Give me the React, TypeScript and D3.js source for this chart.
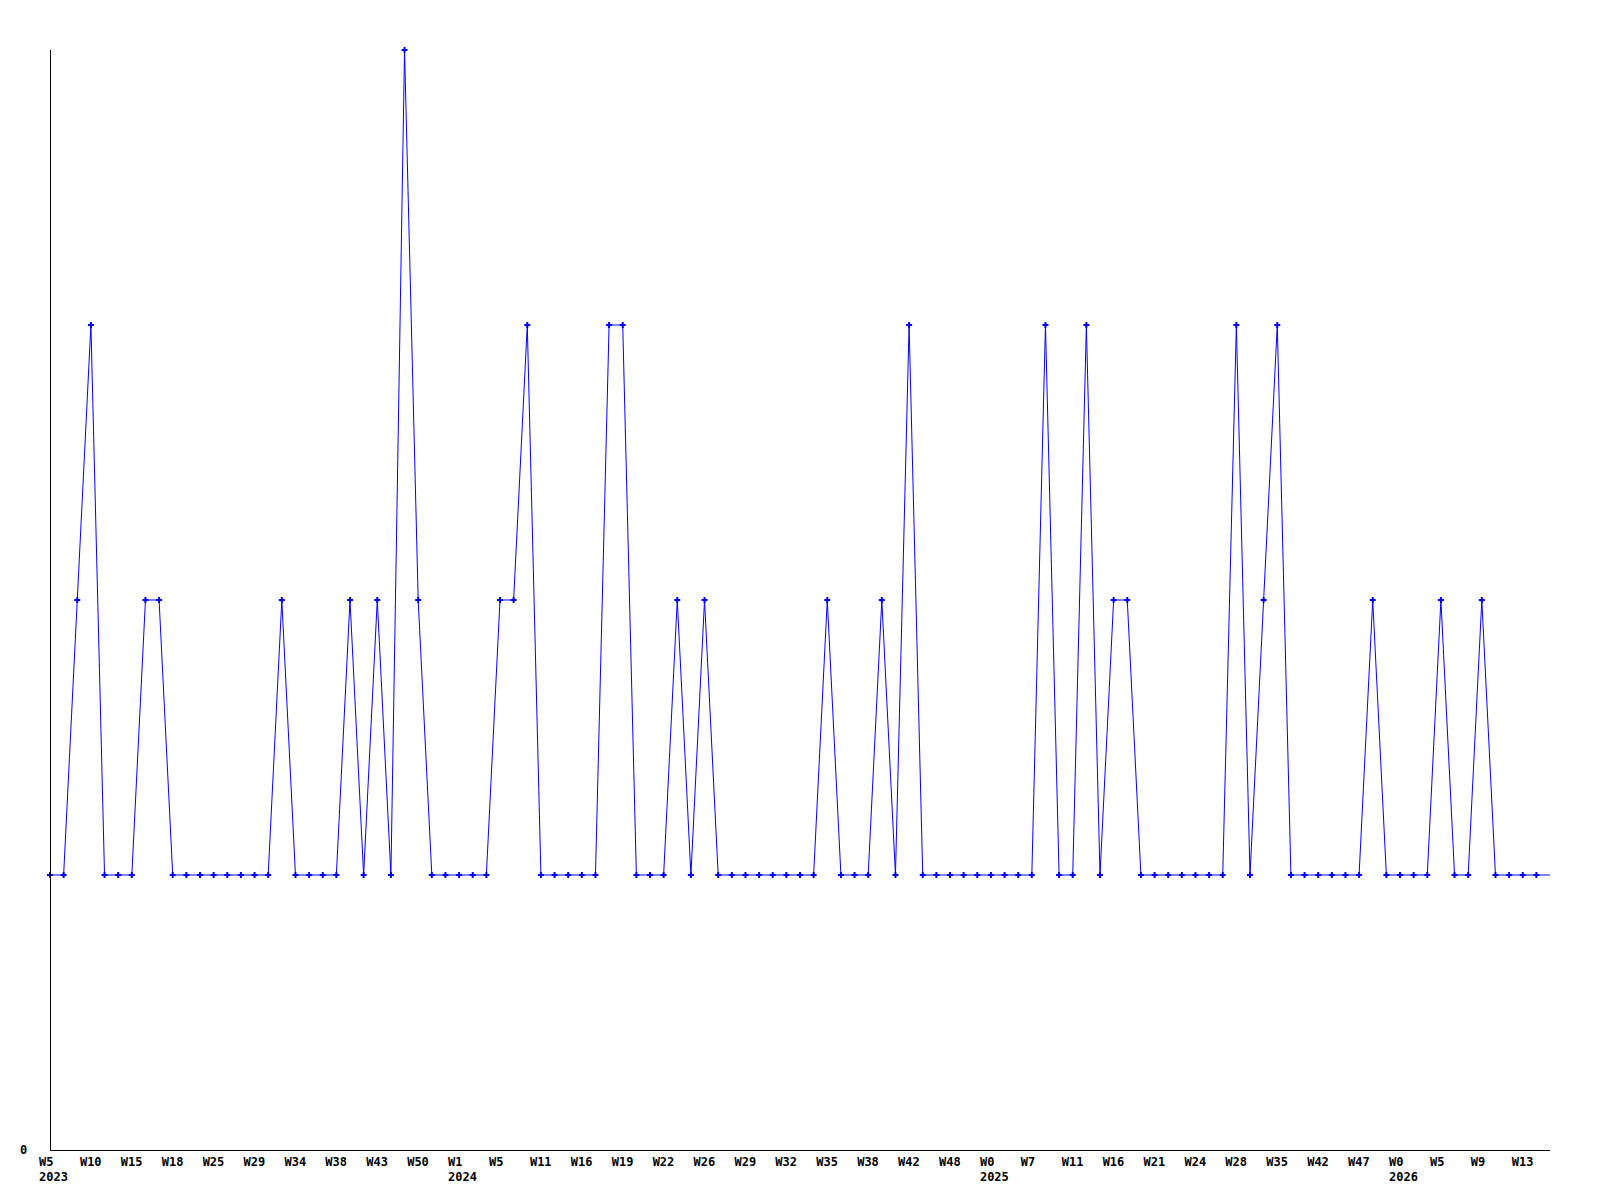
import React from "react";
import * as d3 from "d3";

// weekly counts, one per point
const values: number[] = [
    1, 1, 2, 3, 1, 1, 1, 2, 2, 1,
    1, 1, 1, 1, 1, 1, 1, 2, 1, 1,
    1, 1, 2, 1, 2, 1, 4, 2, 1, 1,
    1, 1, 1, 2, 2, 3, 1, 1, 1, 1,
    1, 3, 3, 1, 1, 1, 2, 1, 2, 1,
    1, 1, 1, 1, 1, 1, 1, 2, 1, 1,
    1, 2, 1, 3, 1, 1, 1, 1, 1, 1,
    1, 1, 1, 3, 1, 1, 3, 1, 2, 2,
    1, 1, 1, 1, 1, 1, 1, 3, 1, 2,
    3, 1, 1, 1, 1, 1, 1, 2, 1, 1,
    1, 1, 2, 1, 1, 2, 1, 1, 1, 1
];

// a label every third point
const weekLabels: string[] = [
    "W5", "W10", "W15", "W18", "W25", "W29", "W34", "W38", "W43", "W50",
    "W1", "W5", "W11", "W16", "W19", "W22", "W26", "W29", "W32", "W35",
    "W38", "W42", "W48", "W0", "W7", "W11", "W16", "W21", "W24", "W28",
    "W35", "W42", "W47", "W0", "W5", "W9", "W13"
];
const labelEvery = 3;

const yearLabelIndex: number[] = [0, 10, 23, 33];
const yearLabels: string[] = ["2023", "2024", "2025", "2026"];

const yTicks: number[] = [0];

const W = 1600;
const H = 1200;
const margin = { top: 50, right: 50, bottom: 50, left: 50 };
const FONT = "'DejaVu Sans Mono', 'Liberation Mono', monospace";

export default function App() {
    const x = d3.scaleLinear()
        .domain([0, values.length])
        .range([margin.left, W - margin.right]);
    const y = d3.scaleLinear()
        .domain([0, 4])
        .range([H - margin.bottom, margin.top]);

    const pts: [number, number][] = values.map((v, i) => [i, v]);
    // the line runs on to the right edge at the last value
    const linePts: [number, number][] = [...pts, [values.length, values[values.length - 1]]];

    const line = d3.line<[number, number]>()
        .x(d => x(d[0]))
        .y(d => y(d[1]));

    const marker = d3.symbol().type(d3.symbolCross).size(20)();

    const x0 = margin.left + 0.5;
    const x1 = W - margin.right;
    const yb = H - margin.bottom + 0.5;

    return (
        <svg
            width={W}
            height={H}
            style={{ position: "absolute", left: 0, top: 0, background: "#fff" }}
        >
            <path d={line(linePts) ?? ""} fill="none" stroke="#0000ff" strokeWidth={1} />
            {pts.map(([i, v]) => (
                <path
                    key={i}
                    d={marker ?? ""}
                    transform={`translate(${x(i)},${y(v)})`}
                    fill="#0000ff"
                />
            ))}

            {/* axes */}
            <line x1={x0} x2={x0} y1={margin.top} y2={yb} stroke="#000" strokeWidth={1} />
            <line x1={x0} x2={x1} y1={yb} y2={yb} stroke="#000" strokeWidth={1} />

            <g fontFamily={FONT} fontSize={12} fontWeight="bold" fill="#000">
                {yTicks.map(t => (
                    <text key={t} x={margin.left - 30} y={y(t) + 4}>{t}</text>
                ))}
                {weekLabels.map((lab, k) => (
                    <text key={k} x={x(k * labelEvery) - 11} y={H - margin.bottom + 16}>{lab}</text>
                ))}
                {yearLabels.map((lab, k) => (
                    <text key={lab} x={x(yearLabelIndex[k] * labelEvery) - 11} y={H - margin.bottom + 31}>{lab}</text>
                ))}
            </g>
        </svg>
    );
}
